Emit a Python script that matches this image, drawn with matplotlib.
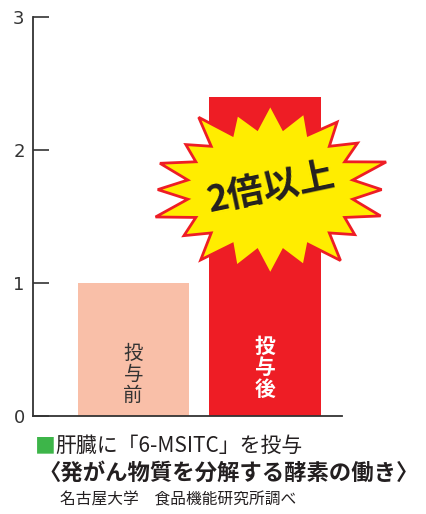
import numpy as np
import matplotlib
matplotlib.use("Agg")
import matplotlib.pyplot as plt
from matplotlib.patches import Polygon

plt.rcParams['font.family'] = ['Noto Sans CJK JP', 'DejaVu Sans']

# data
categories = ["投与前", "投与後"]
values = [1.0, 2.4]
bar_colors = ["#F9BFA8", "#EE1D25"]
yticks = [0, 1, 2, 3]
badge_text = "2倍以上"
title_line1 = "肝臓に「6-MSITC」を投与"
title_line2 = "〈発がん物質を分解する酵素の働き〉"
source_text = "名古屋大学　食品機能研究所調べ"

fig = plt.figure(figsize=(4.27, 5.14), dpi=100)
ax = fig.add_axes([0.0773, 0.1912, 0.7236, 0.7763])

x = np.arange(len(categories))
ax.bar(x, values, width=0.843, color=bar_colors, zorder=1)
ax.set_xlim(-0.76, 1.584)
ax.set_ylim(0, 3)

# axes style
for side in ["top", "right"]:
    ax.spines[side].set_visible(False)
for side in ["left", "bottom"]:
    ax.spines[side].set_color("#333333")
    ax.spines[side].set_linewidth(1.3)
ax.set_xticks([])
ax.set_yticks(yticks)
ax.set_yticklabels([str(t) for t in yticks], fontsize=13, color="#333333",
                   family="DejaVu Sans")
ax.tick_params(axis="y", direction="in", length=11.5, width=1.2,
               color="#333333", pad=6)

# labels inside bars
ax.text(x[0], 0.31, "\n".join(categories[0]), ha="center", va="center",
        fontsize=14, color="#333333", linespacing=1.0)
ax.text(x[1], 0.36, "\n".join(categories[1]), ha="center", va="center",
        fontsize=15, color="white", fontweight="bold", linespacing=1.05)

# starburst badge
cx, cy = 1.04, 1.70
rx, ry = 0.88, 0.64
n_spikes = 20
jitter = [1.0, 0.93, 1.05, 0.9, 1.0, 0.97, 1.04, 0.92, 1.02, 0.95,
          1.0, 0.94, 1.03, 0.9, 1.0, 0.96, 1.05, 0.93, 0.98, 0.95]
angles = np.linspace(0, 2 * np.pi, 2 * n_spikes, endpoint=False) + np.pi / 2
pts = []
for i, a in enumerate(angles):
    if i % 2 == 0:
        r = jitter[i // 2]
    else:
        r = 0.72
    pts.append((cx + rx * r * np.cos(a), cy + ry * r * np.sin(a)))
star = Polygon(pts, closed=True, facecolor="#FFED00", edgecolor="#EE1D25",
               linewidth=2, zorder=3, clip_on=False)
ax.add_patch(star)
ax.text(cx + 0.01, cy + 0.01, badge_text, ha="center", va="center",
        fontsize=26, fontweight="bold", color="#231F20", rotation=12, zorder=4)

# captions
fig.text(35 / 427, 1 - 446 / 514, "■", color="#3DB549", fontsize=15,
         ha="left", va="center")
fig.text(55 / 427, 1 - 446 / 514, title_line1, color="#231F20", fontsize=15,
         ha="left", va="center")
fig.text(38 / 427, 1 - 473 / 514, title_line2, color="#231F20", fontsize=16.1,
         fontweight="bold", ha="left", va="center")
fig.text(60 / 427, 1 - 500 / 514, source_text, color="#231F20", fontsize=11.3,
         ha="left", va="center")

fig.savefig("out.png", dpi=100)
